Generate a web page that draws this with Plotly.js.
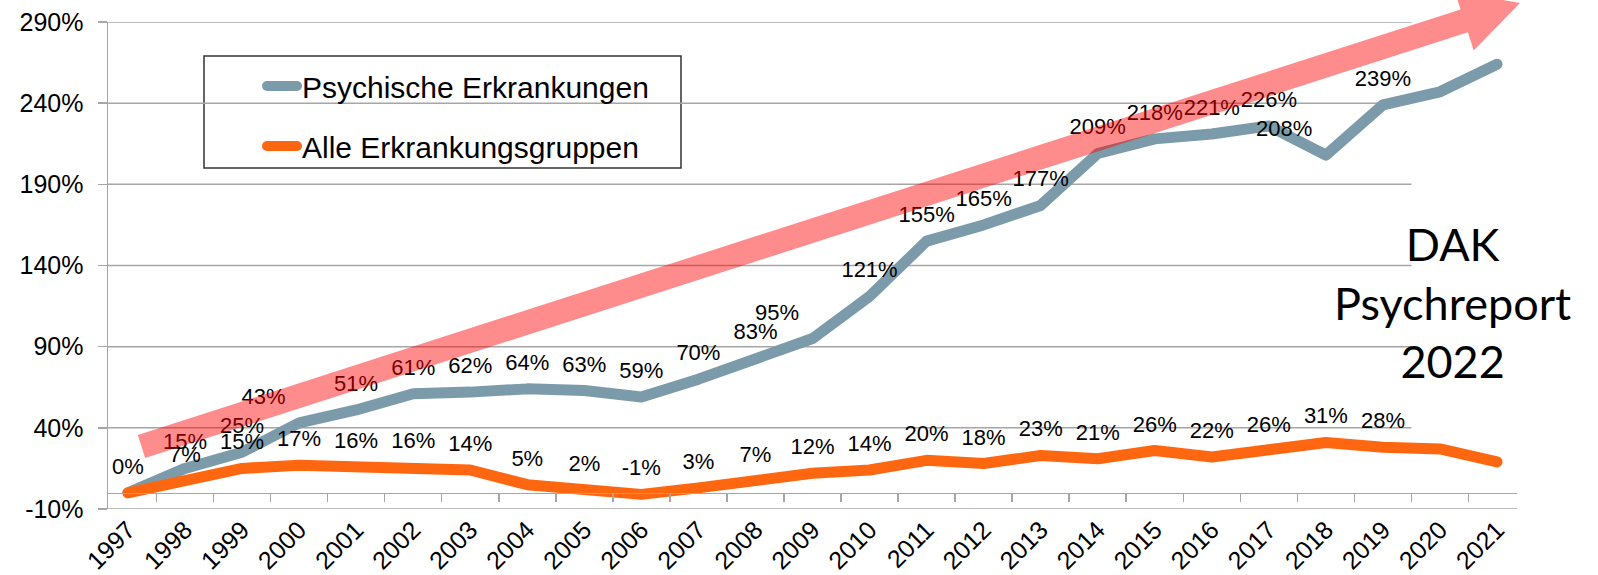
<!DOCTYPE html>
<html>
<head>
<meta charset="utf-8">
<script src="https://cdn.plot.ly/plotly-3.0.1.min.js"></script>
<style>
html,body{margin:0;padding:0;background:#fff;}
#chart{width:1598px;height:575px;}
</style>
</head>
<body>
<div id="chart"></div>
<script>
// ---------- data ----------
const years = ['1997','1998','1999','2000','2001','2002','2003','2004','2005','2006','2007','2008','2009','2010','2011','2012','2013','2014','2015','2016','2017','2018','2019','2020','2021'];
const psychValues = [0,15,25,43,51,61,62,64,63,59,70,83,95,121,155,165,177,209,218,221,226,208,239,247,264];
const alleValues  = [0,7,15,17,16,16,14,5,2,-1,3,7,12,14,20,18,23,21,26,22,26,31,28,27,19];
const psychLabels = ['','15%','25%','43%','51%','61%','62%','64%','63%','59%','70%','83%','95%','121%','155%','165%','177%','209%','218%','221%','226%','208%','239%','',''];
const alleLabels  = ['0%','7%','15%','17%','16%','16%','14%','5%','2%','-1%','3%','7%','12%','14%','20%','18%','23%','21%','26%','22%','26%','31%','28%','',''];
const yTickValues = [-10,40,90,140,190,240,290];
const yTickLabels = ['-10%','40%','90%','140%','190%','240%','290%'];
const seriesNames = ['Psychische Erkrankungen','Alle Erkrankungsgruppen'];
const noteText = 'DAK<br>Psychreport<br>2022';

// ---------- geometry / style ----------
const W = 1598, H = 575;
const M = {l:108, r:81, t:22, b:66};
const PW = W - M.l - M.r, PH = H - M.t - M.b;
const xRange = [-0.35, 24.35];
const yRange = [-10, 290];
const gridEnd = 22.5;             // gridlines of the original chart stop after 2019
const px2x = px => (px - M.l) / PW;
const px2y = py => (H - M.b - py) / PH;
const FONT = '"Liberation Sans", Arial, sans-serif';
const GRID = '#a6a6a6';
const BLUE = '#7b9bab';
const ORANGE = '#ff6610';

// label placement style (not data)
const leftLabelYears = ['2000','2009','2018'];
const psychPos = years.map(y => leftLabelYears.includes(y) ? 'top left' : 'top center');

// ---------- traces ----------
const traces = [
  {x: years, y: psychValues, name: seriesNames[0], mode: 'lines', legendgroup: 'a',
   line: {color: BLUE, width: 11}, hoverinfo: 'skip'},
  {x: years, y: alleValues, name: seriesNames[1], mode: 'lines', legendgroup: 'b',
   line: {color: ORANGE, width: 11}, hoverinfo: 'skip'},
  {x: years, y: psychValues, mode: 'markers+text', text: psychLabels, textposition: psychPos,
   marker: {size: 20, opacity: 0}, textfont: {family: FONT, size: 22, color: '#000'},
   showlegend: false, hoverinfo: 'skip', cliponaxis: false},
  {x: years, y: alleValues, mode: 'markers+text', text: alleLabels, textposition: 'top center',
   marker: {size: 20, opacity: 0}, textfont: {family: FONT, size: 22, color: '#000'},
   showlegend: false, hoverinfo: 'skip', cliponaxis: false}
];

// ---------- shapes ----------
const shapes = [];
yTickValues.filter(v => v > yRange[0]).forEach(v => {
  shapes.push({type: 'line', xref: 'x', yref: 'y', x0: xRange[0], x1: gridEnd, y0: v, y1: v,
               line: {color: GRID, width: 1.5}, layer: 'below'});
});
shapes.push({type: 'line', xref: 'paper', yref: 'y', x0: 0, x1: 1, y0: yRange[0], y1: yRange[0],
             line: {color: GRID, width: 1.5}, layer: 'below'});
// legend frame
shapes.push({type: 'rect', xref: 'paper', yref: 'paper',
             x0: px2x(204), x1: px2x(681), y0: px2y(168), y1: px2y(56),
             line: {color: '#333', width: 1.5}, fillcolor: '#fff', layer: 'below'});
// trend arrow (decoration), built in pixel space then mapped to paper
(function(){
  const tail = [141.5, 446.5], tip = [1520, 3];
  const shaftHalf = 12, headHalf = 31, headLen = 58.6;
  const dx = tip[0]-tail[0], dy = tip[1]-tail[1], L = Math.hypot(dx, dy);
  const u = [dx/L, dy/L], n = [-u[1], u[0]];
  const C = [tip[0]-headLen*u[0], tip[1]-headLen*u[1]];
  const pt = (p, k) => [p[0]+k*n[0], p[1]+k*n[1]];
  const pts = [pt(tail,-shaftHalf), pt(C,-shaftHalf), pt(C,-headHalf), tip,
               pt(C,headHalf), pt(C,shaftHalf), pt(tail,shaftHalf)];
  const path = pts.map((p,i) => (i ? 'L' : 'M') + px2x(p[0]).toFixed(5) + ',' + px2y(p[1]).toFixed(5)).join(' ') + ' Z';
  shapes.push({type: 'path', xref: 'paper', yref: 'paper', path: path,
               fillcolor: 'rgba(255,0,0,0.45)', line: {width: 0}, layer: 'above'});
})();

// ---------- layout ----------
const layout = {
  width: W, height: H,
  margin: M,
  paper_bgcolor: '#fff', plot_bgcolor: '#fff',
  showlegend: true,
  legend: {x: px2x(262), y: px2y(60), xanchor: 'left', yanchor: 'top',
           bgcolor: 'rgba(0,0,0,0)', borderwidth: 0, tracegroupgap: 18,
           font: {family: FONT, size: 30, color: '#000'}},
  xaxis: {type: 'category', range: xRange, anchor: 'free',
          position: (0 - yRange[0]) / (yRange[1] - yRange[0]),
          showline: true, linecolor: GRID, linewidth: 1.5,
          ticks: 'outside', ticklen: 8, tickwidth: 1.5, tickcolor: GRID, tickson: 'boundaries',
          tickangle: -45, ticklabelstandoff: 11,
          tickfont: {family: FONT, size: 25, color: '#000'},
          showgrid: false, zeroline: false, fixedrange: true},
  yaxis: {range: yRange, tickvals: yTickValues, ticktext: yTickLabels,
          showline: true, linecolor: GRID, linewidth: 1.5,
          ticks: 'outside', ticklen: 9, tickwidth: 1.5, tickcolor: GRID,
          ticklabelstandoff: 9,
          tickfont: {family: FONT, size: 25, color: '#000'},
          showgrid: false, zeroline: false, fixedrange: true},
  shapes: shapes,
  annotations: [{xref: 'paper', yref: 'paper', x: px2x(1452), y: px2y(302),
                 xanchor: 'center', yanchor: 'middle', showarrow: false, text: noteText,
                 font: {family: 'Lato, "Open Sans", sans-serif', size: 45, color: '#000'}}]
};

Plotly.newPlot('chart', traces, layout, {displayModeBar: false, staticPlot: true}).then(() => {
  document.querySelectorAll('.scatterlayer .js-line, .legend .js-line').forEach(p => {
    p.style.strokeLinecap = 'round';
    p.style.strokeLinejoin = 'round';
  });
});
</script>
</body>
</html>
